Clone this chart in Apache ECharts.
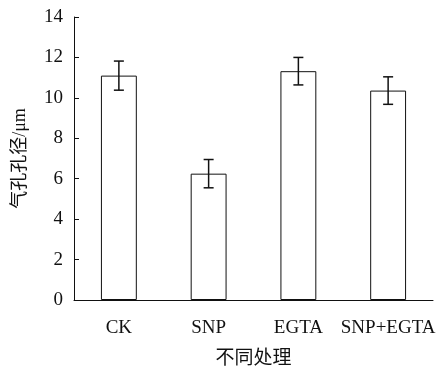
<!DOCTYPE html>
<html><head><meta charset="utf-8">
<script src="https://cdn.jsdelivr.net/npm/echarts@6/dist/echarts.min.js"></script>
<style>html,body{margin:0;padding:0;background:#fff}#c{width:447px;height:372px}</style>
</head><body><div id="c"></div>
<script>
const categories = ['CK', 'SNP', 'EGTA', 'SNP+EGTA'];
const values = [11.1, 6.25, 11.32, 10.36];
const errors = [0.72, 0.7, 0.68, 0.68];
const yTicks = [0, 2, 4, 6, 8, 10, 12, 14];

const FONT = '"Liberation Serif", "Noto Sans CJK SC", serif';
const chart = echarts.init(document.getElementById('c'), null, {renderer: 'canvas'});
const errData = categories.map((c, i) => [i, values[i] - errors[i], values[i] + errors[i]]);
chart.setOption({
  animation: false,
  backgroundColor: '#fff',
  grid: {left: 74, right: 14, top: 17, bottom: 72},
  xAxis: {
    type: 'category', data: categories,
    name: '不同处理', nameLocation: 'middle', nameGap: 47,
    nameTextStyle: {color: '#111', fontSize: 19, fontFamily: '"Noto Sans CJK SC", sans-serif'},
    axisLine: {lineStyle: {color: '#111', width: 1}},
    axisTick: {show: false},
    axisLabel: {color: '#111', fontSize: 19, fontFamily: FONT, margin: 19, interval: 0}
  },
  yAxis: {
    type: 'value', min: yTicks[0], max: yTicks[yTicks.length - 1], interval: 2,
    name: '气孔孔径/μm', nameLocation: 'middle', nameGap: 45, nameRotate: 90,
    nameTextStyle: {color: '#111', fontSize: 18, fontFamily: FONT},
    axisLine: {show: true, lineStyle: {color: '#111', width: 1}},
    axisTick: {show: true, inside: true, length: 5, lineStyle: {color: '#111'}},
    splitLine: {show: false},
    axisLabel: {color: '#111', fontSize: 19, fontFamily: FONT, margin: 11}
  },
  series: [
    {
      type: 'bar', data: values, barWidth: '40%',
      itemStyle: {color: '#fff', borderColor: '#111', borderWidth: 1}
    },
    {
      type: 'custom', data: errData, z: 10,
      renderItem: function (params, api) {
        const x = api.value(0);
        const lo = api.coord([x, api.value(1)]);
        const hi = api.coord([x, api.value(2)]);
        const hw = 5;
        const s = {stroke: '#111', lineWidth: 1.5};
        return {type: 'group', children: [
          {type: 'line', shape: {x1: lo[0], y1: lo[1], x2: hi[0], y2: hi[1]}, style: s},
          {type: 'line', shape: {x1: lo[0] - hw, y1: lo[1], x2: lo[0] + hw, y2: lo[1]}, style: s},
          {type: 'line', shape: {x1: hi[0] - hw, y1: hi[1], x2: hi[0] + hw, y2: hi[1]}, style: s}
        ]};
      }
    }
  ]
});
</script></body></html>
